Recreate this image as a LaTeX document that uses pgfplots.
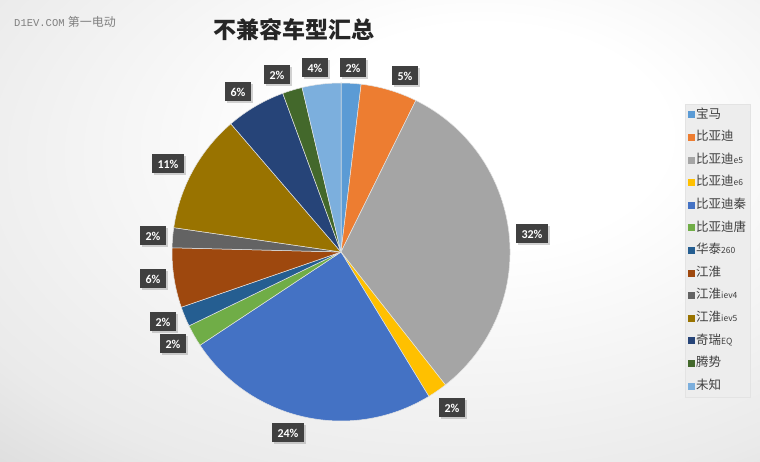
\documentclass[border=0pt]{standalone}
\usepackage{fontspec}
\usepackage{pgfplots}
\usepackage{pgfplotstable}
\pgfplotsset{compat=1.18}
\usetikzlibrary{shadows}

\newfontfamily\cjk{Noto Sans CJK SC}
\newfontfamily\lbl{Carlito}
\newfontfamily\mono{Liberation Mono}

% Office palette
\definecolor{c1}{HTML}{5B9BD5}
\definecolor{c2}{HTML}{ED7D31}
\definecolor{c3}{HTML}{A5A5A5}
\definecolor{c4}{HTML}{FFC000}
\definecolor{c5}{HTML}{4472C4}
\definecolor{c6}{HTML}{70AD47}
\definecolor{c7}{HTML}{255E91}
\definecolor{c8}{HTML}{9E480E}
\definecolor{c9}{HTML}{636363}
\definecolor{c10}{HTML}{997300}
\definecolor{c11}{HTML}{264478}
\definecolor{c12}{HTML}{43682B}
\definecolor{c13}{HTML}{7CAFDD}
\definecolor{labfill}{HTML}{404040}
\definecolor{legtext}{HTML}{404040}
\definecolor{bgA}{HTML}{EAEAEA}
\definecolor{bgB}{HTML}{D2D2D2}
\definecolor{bgC}{HTML}{C6C6C6}
\definecolor{bgD}{HTML}{B6B6B6}

\pgfdeclareradialshading{bgshade}{\pgfpoint{8bp}{12bp}}{%
  color(0bp)=(white); color(12bp)=(white); color(36bp)=(bgA);
  color(50bp)=(bgB); color(62bp)=(bgC); color(85bp)=(bgD)}

\tikzset{lab/.style={fill=labfill, text=white, inner sep=0pt,
    minimum height=19pt, align=center,
    font=\lbl\bfseries\fontsize{12}{12}\selectfont,
    drop shadow={shadow xshift=1.5pt, shadow yshift=-1.5pt, opacity=0.35}}}

% share in percent, slice colour, label centre (pixels from top left)
\pgfplotstableread[col sep=comma]{
value,color,lx,ly
1.9,c1,353,68
5.4,c2,405,76
32.1,c3,532,234
1.9,c4,452,408
24.4,c5,288,433
2.1,c6,173,344
1.9,c7,163,322
5.7,c8,153,279
1.9,c9,153,236
11.4,c10,168,164
5.7,c11,238,92
1.9,c12,277,75
3.7,c13,315,68
}\piedata

\newcommand\sm[1]{{\fontsize{8.5}{9}\selectfont #1}}

\begin{document}
\begin{tikzpicture}
\useasboundingbox (0,0) rectangle (760pt,462pt);
\shade[shading=bgshade] (0,0) rectangle (760pt,462pt);
\begin{axis}[
  at={(0,0)}, anchor=south west,
  x=1pt, y=1pt,
  xmin=0, xmax=760, ymin=0, ymax=462,
  hide axis, clip=false,
  legend image code/.code={\fill[#1, draw=none] (0pt,-3.5pt) rectangle (7pt,3.5pt);},
  legend cell align=left,
  legend style={at={(685/760,358/462)}, anchor=north west,
    draw=gray!22, fill=white!86!gray, text=legtext,
    font=\cjk\fontsize{12.5}{13}\selectfont,
    row sep=9.1pt, inner xsep=3pt, inner ysep=4pt,
    nodes={inner sep=1pt, text height=9pt, text depth=2.5pt}},
]
\pgfplotstablegetrowsof{\piedata}
\pgfmathtruncatemacro\lastrow{\pgfplotsretval-1}
\xdef\angA{90}
\pgfplotsforeachungrouped \i in {0,...,\lastrow}{%
  \pgfplotstablegetelem{\i}{value}\of\piedata \let\val\pgfplotsretval
  \pgfplotstablegetelem{\i}{color}\of\piedata \let\col\pgfplotsretval
  \pgfplotstablegetelem{\i}{lx}\of\piedata \let\lx\pgfplotsretval
  \pgfplotstablegetelem{\i}{ly}\of\piedata \let\lyraw\pgfplotsretval
  \pgfmathsetmacro\ly{462-\lyraw}
  \pgfmathsetmacro\angB{\angA-3.6*\val}
  \pgfmathtruncatemacro\pct{round(\val)}
  \ifnum\pct>9 \def\bw{32pt}\else\def\bw{26pt}\fi
  \edef\temp{%
    \noexpand\fill[\col, draw=white!80!gray, line width=0.5pt]
      (axis cs:341,210) -- ++(\angA:169pt)
      arc[start angle=\angA, end angle=\angB, radius=169pt] -- cycle;
    \noexpand\node[lab, minimum width=\bw]
      at (axis cs:\lx,\ly) {\pct\noexpand\%};
  }\temp
  \xdef\angA{\angB}
}

\addlegendimage{fill=c1}\addlegendentry{宝马}
\addlegendimage{fill=c2}\addlegendentry{比亚迪}
\addlegendimage{fill=c3}\addlegendentry{比亚迪\sm{e5}}
\addlegendimage{fill=c4}\addlegendentry{比亚迪\sm{e6}}
\addlegendimage{fill=c5}\addlegendentry{比亚迪秦}
\addlegendimage{fill=c6}\addlegendentry{比亚迪唐}
\addlegendimage{fill=c7}\addlegendentry{华泰\sm{260}}
\addlegendimage{fill=c8}\addlegendentry{江淮}
\addlegendimage{fill=c9}\addlegendentry{江淮\sm{iev4}}
\addlegendimage{fill=c10}\addlegendentry{江淮\sm{iev5}}
\addlegendimage{fill=c11}\addlegendentry{奇瑞\sm{EQ}}
\addlegendimage{fill=c12}\addlegendentry{腾势}
\addlegendimage{fill=c13}\addlegendentry{未知}

\node[font=\cjk\bfseries\fontsize{23}{24}\selectfont, text=black!85]
  at (axis cs:294,432) {不兼容车型汇总};
\node[anchor=west, text=black!50, inner sep=0pt]
  at (axis cs:14,440) {{\mono\fontsize{10.5}{11}\selectfont D1EV.COM} {\cjk\fontsize{12}{13}\selectfont 第一电动}};
\end{axis}
\end{tikzpicture}
\end{document}
